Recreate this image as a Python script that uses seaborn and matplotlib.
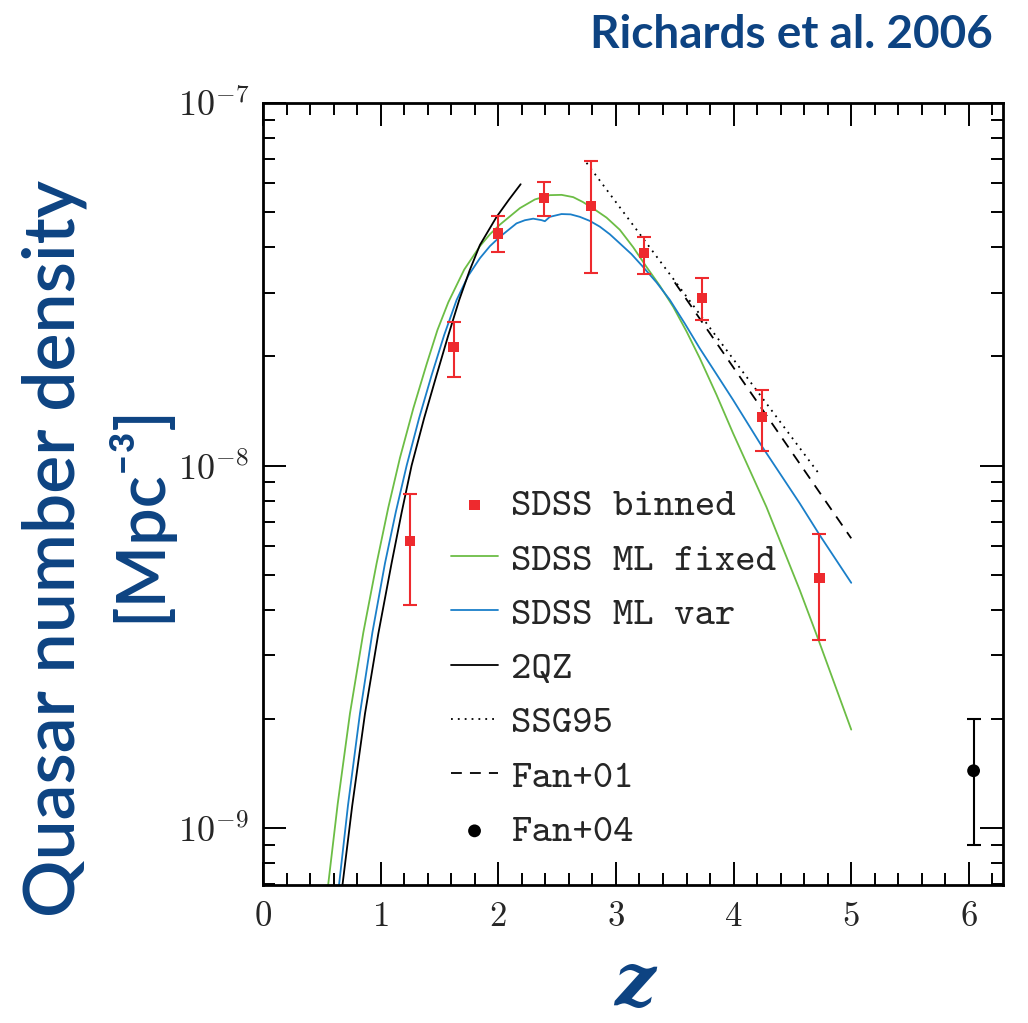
import numpy as np
import pandas as pd
import matplotlib
matplotlib.use("Agg")
import matplotlib.pyplot as plt
import seaborn as sns
from matplotlib.ticker import FixedLocator, FixedFormatter, NullFormatter

# ---------------- data ----------------
binned_z = [1.25, 1.62, 2.00, 2.39, 2.79, 3.24, 3.73, 4.24, 4.73]
binned_n = [6.19e-9, 2.12e-8, 4.37e-8, 5.48e-8, 5.19e-8, 3.86e-8, 2.90e-8, 1.36e-8, 4.90e-9]
binned_hi = [8.34e-9, 2.49e-8, 4.88e-8, 6.07e-8, 6.93e-8, 4.27e-8, 3.30e-8, 1.62e-8, 6.48e-9]
binned_lo = [4.12e-9, 1.75e-8, 3.88e-8, 4.88e-8, 3.40e-8, 3.38e-8, 2.52e-8, 1.10e-8, 3.31e-9]

mlfixed_z = [0.53, 0.635, 0.739, 0.853, 0.966, 1.065, 1.164, 1.278, 1.391, 1.483, 1.575,
             1.71, 1.844, 1.929, 2.014, 2.184, 2.311, 2.438, 2.538, 2.637, 2.72, 2.806,
             2.92, 3.033, 3.147, 3.26, 3.374, 3.487, 3.6, 3.713, 3.855, 3.996, 4.279,
             4.562, 4.718, 5.0]
mlfixed_n = [6.0e-10, 1.167e-9, 2.07e-9, 3.467e-9, 5.38e-9, 7.66e-9, 1.05e-8, 1.439e-8,
             1.905e-8, 2.366e-8, 2.82e-8, 3.47e-8, 4.03e-8, 4.345e-8, 4.62e-8, 5.13e-8,
             5.42e-8, 5.57e-8, 5.58e-8, 5.50e-8, 5.33e-8, 5.12e-8, 4.83e-8, 4.47e-8,
             4.0e-8, 3.53e-8, 3.13e-8, 2.74e-8, 2.344e-8, 1.977e-8, 1.567e-8, 1.227e-8,
             7.69e-9, 4.54e-9, 3.33e-9, 1.87e-9]

mlvar_z = [0.62, 0.722, 0.824, 0.93, 1.037, 1.129, 1.221, 1.327, 1.433, 1.54, 1.646, 1.745,
           1.844, 1.929, 2.014, 2.155, 2.226, 2.297, 2.367, 2.396, 2.438, 2.537, 2.615,
           2.693, 2.778, 2.863, 2.948, 3.033, 3.132, 3.231, 3.345, 3.458, 3.585, 3.713,
           3.855, 3.996, 4.237, 4.562, 4.732, 5.0]
mlvar_n = [5.86e-10, 1.153e-9, 2.07e-9, 3.467e-9, 5.38e-9, 7.45e-9, 1.0e-8, 1.352e-8,
           1.774e-8, 2.291e-8, 2.864e-8, 3.34e-8, 3.733e-8, 4.03e-8, 4.276e-8, 4.656e-8,
           4.75e-8, 4.797e-8, 4.753e-8, 4.72e-8, 4.853e-8, 4.94e-8, 4.93e-8, 4.853e-8,
           4.73e-8, 4.56e-8, 4.345e-8, 4.10e-8, 3.83e-8, 3.53e-8, 3.20e-8, 2.864e-8,
           2.466e-8, 2.104e-8, 1.786e-8, 1.517e-8, 1.135e-8, 7.87e-9, 6.43e-9, 4.75e-9]

qz_z = [0.65, 0.758, 0.867, 0.98, 1.093, 1.178, 1.263, 1.369, 1.475, 1.572, 1.668, 1.756,
        1.844, 1.985, 2.09, 2.19]
qz_n = [5.97e-10, 1.151e-9, 2.07e-9, 3.436e-9, 5.38e-9, 7.41e-9, 1.0e-8, 1.349e-8, 1.774e-8,
        2.27e-8, 2.864e-8, 3.45e-8, 4.06e-8, 4.85e-8, 5.41e-8, 5.97e-8]

ssg_z = [2.75, 4.72]
ssg_n = [6.84e-8, 9.55e-9]

fan01_z = [3.50, 5.00]
fan01_n = [3.20e-8, 6.30e-9]

fan04_z = [6.04]
fan04_n = [1.44e-9]
fan04_hi = [2.0e-9]
fan04_lo = [8.98e-10]

legend_order = ["SDSS binned", "SDSS ML fixed", "SDSS ML var", "2QZ", "SSG95", "Fan+01", "Fan+04"]
x_major = [0, 1, 2, 3, 4, 5, 6]
x_major_labels = ["$0$", "$1$", "$2$", "$3$", "$4$", "$5$", "$6$"]
y_major = [1e-9, 1e-8, 1e-7]
y_major_labels = ["$10^{-9}$", "$10^{-8}$", "$10^{-7}$"]

# ---------------- style ----------------
sns.set_style("ticks")
plt.rcParams["mathtext.fontset"] = "cm"
plt.rcParams["axes.linewidth"] = 2.0

RED = "#ee2a2e"
GREEN = "#6cbd45"
BLUE = "#1a7fc9"
NAVY = "#0d4382"

fig = plt.figure(figsize=(10.28, 10.23), dpi=100)
ax = fig.add_axes([263 / 1028, 1 - 885 / 1023, 740 / 1028, 782 / 1023])
ax.set_yscale("log")

lw = 1.3
sns.lineplot(x=mlfixed_z, y=mlfixed_n, ax=ax, color=GREEN, lw=lw, sort=False,
             estimator=None, label="SDSS ML fixed")
sns.lineplot(x=mlvar_z, y=mlvar_n, ax=ax, color=BLUE, lw=lw, sort=False,
             estimator=None, label="SDSS ML var")
sns.lineplot(x=qz_z, y=qz_n, ax=ax, color="black", lw=lw, sort=False,
             estimator=None, label="2QZ")
sns.lineplot(x=ssg_z, y=ssg_n, ax=ax, color="black", lw=1.3, sort=False,
             estimator=None, label="SSG95")
sns.lineplot(x=fan01_z, y=fan01_n, ax=ax, color="black", lw=1.3, sort=False,
             estimator=None, label="Fan+01")
ax.lines[3].set_linestyle((0, (1, 2.8)))
ax.lines[4].set_linestyle((0, (6, 4.5)))

bz = np.array(binned_z)
bn = np.array(binned_n)
ax.errorbar(bz, bn, yerr=[bn - np.array(binned_lo), np.array(binned_hi) - bn], fmt="none",
            ecolor=RED, elinewidth=1.5, capsize=4.8, capthick=1.5, zorder=4)
sns.scatterplot(x=binned_z, y=binned_n, ax=ax, marker="s", s=55, color=RED,
                edgecolor="none", label="SDSS binned", zorder=5)

fz = np.array(fan04_z)
fn = np.array(fan04_n)
ax.errorbar(fz, fn, yerr=[fn - np.array(fan04_lo), np.array(fan04_hi) - fn], fmt="none",
            ecolor="black", elinewidth=1.5, capsize=5, capthick=1.5, zorder=4)
sns.scatterplot(x=fan04_z, y=fan04_n, ax=ax, marker="o", s=85, color="black",
                edgecolor="none", label="Fan+04", zorder=5)

# ---------------- axes ----------------
ax.set_xlim(0, 6.29)
ax.set_ylim(6.97e-10, 1e-7)
x_minor = [v / 5 for v in range(0, 32) if v % 5 != 0]
y_minor = [m * d for d in (1e-10, 1e-9, 1e-8) for m in range(2, 10) if 6.97e-10 < m * d < 1e-7]
ax.xaxis.set_major_locator(FixedLocator(x_major))
ax.xaxis.set_major_formatter(FixedFormatter(x_major_labels))
ax.xaxis.set_minor_locator(FixedLocator(x_minor))
ax.xaxis.set_minor_formatter(NullFormatter())
ax.yaxis.set_major_locator(FixedLocator(y_major))
ax.yaxis.set_major_formatter(FixedFormatter(y_major_labels))
ax.yaxis.set_minor_locator(FixedLocator(y_minor))
ax.yaxis.set_minor_formatter(NullFormatter())
ax.tick_params(which="both", direction="in", top=True, right=True, color="black")
ax.tick_params(which="major", length=16.5, width=1.4, labelsize=26)
ax.tick_params(axis="x", which="major", pad=10, labelsize=25)
ax.tick_params(axis="y", which="major", pad=10)
ax.tick_params(which="minor", length=8.6, width=1.4)
for s in ax.spines.values():
    s.set_linewidth(2.0)
    s.set_color("black")
ax.set_xlabel("")
ax.set_ylabel("")

# ---------------- legend ----------------
h, l = ax.get_legend_handles_labels()
hd = dict(zip(l, h))
leg = ax.legend([hd[k] for k in legend_order], legend_order, loc="upper left",
                bbox_to_anchor=(451 / 1028, 1 - 488 / 1023), bbox_transform=fig.transFigure,
                frameon=False, prop={"family": "cmtt10", "size": 28}, handlelength=1.21,
                handletextpad=0.33, labelspacing=0.465, borderpad=0, borderaxespad=0)

# ---------------- texts ----------------
fig.text(993 / 1028, 1 - 48 / 1023, "Richards et al. 2006", ha="right", va="baseline",
         fontsize=33, fontweight="bold", family="Lato", color=NAVY)
fig.text(55 / 1028, 1 - 548 / 1023, "Quasar number density", rotation=90, ha="center",
         va="center", fontsize=51.5, fontweight="semibold", family="Lato", color=NAVY)
fig.text(138 / 1028, 1 - 513 / 1023, "[Mpc⁻³]", rotation=90, ha="center", va="center",
         fontsize=48, fontweight="semibold", family=["Lato", "DejaVu Sans"], color=NAVY)
fig.text(635 / 1028, 1 - 985 / 1023, "z", ha="center", va="center", fontsize=52,
         fontweight="bold", style="italic", family="DejaVu Serif", color=NAVY)

fig.savefig("out.png", dpi=100)
